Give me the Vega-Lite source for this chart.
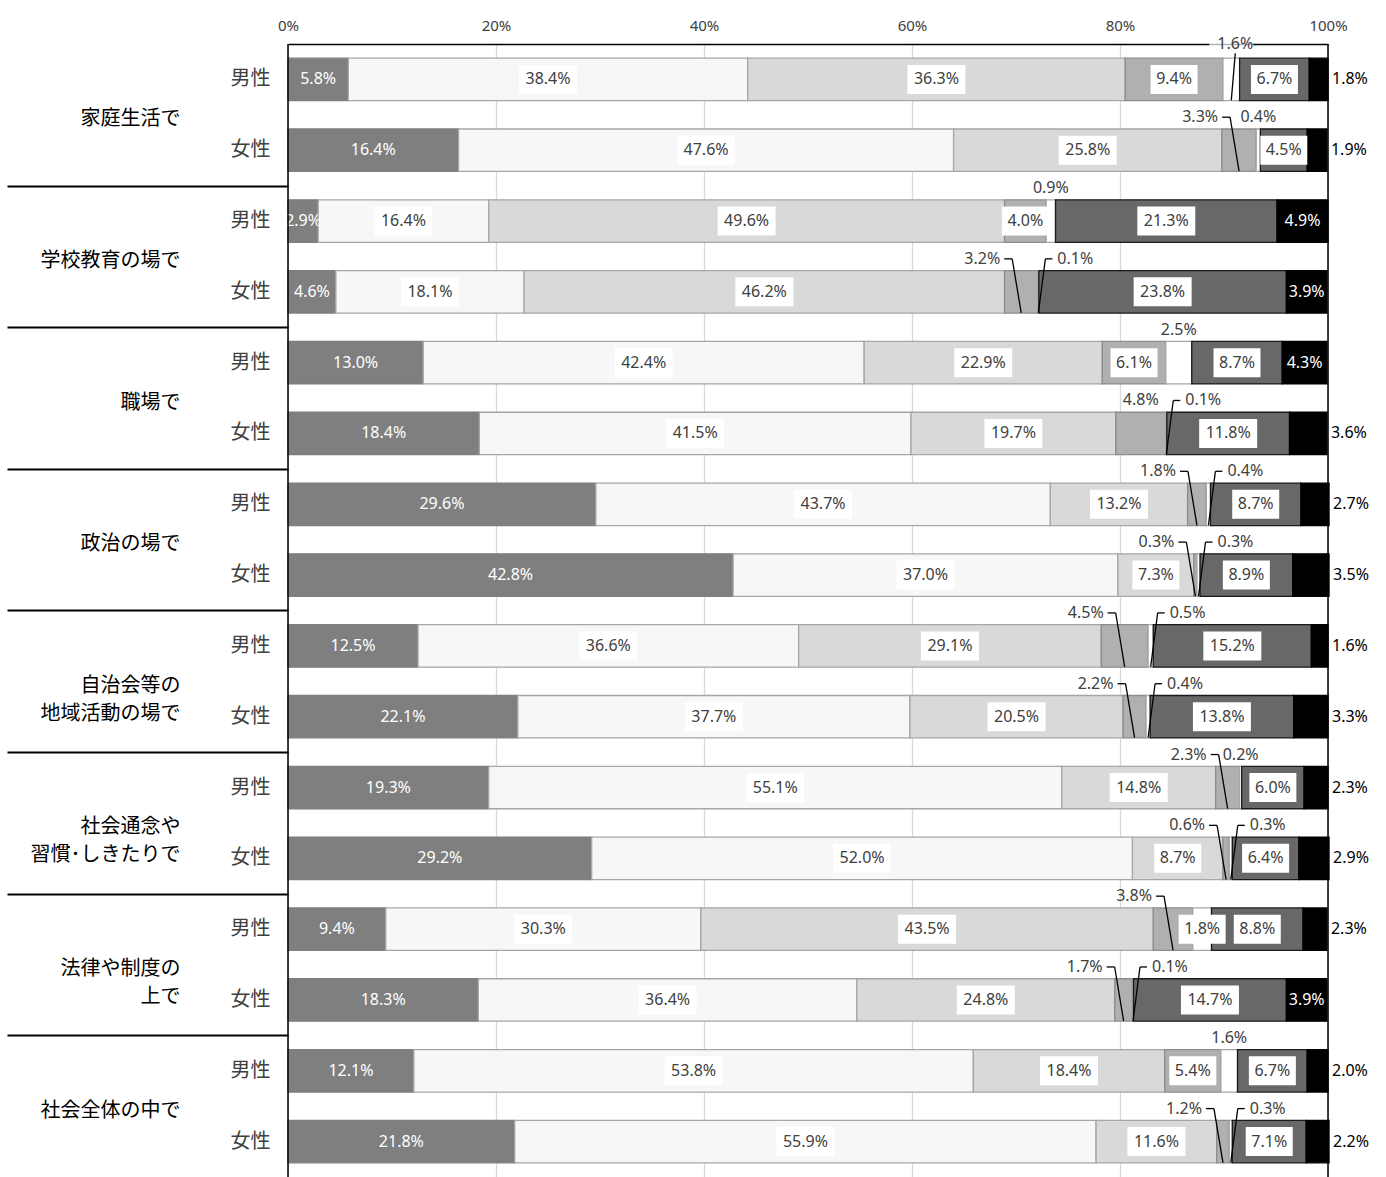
{
  "$schema": "https://vega.github.io/schema/vega-lite/v6.json",
  "width": 1040,
  "height": 1133,
  "autosize": "none",
  "padding": {"left": 288, "top": 44, "right": 58, "bottom": 0},
  "background": "white",
  "config": {"view": {"stroke": null}, "font": "Noto Sans CJK JP"},
  "layer": [
    {
      "data": {"values": [
        {"id": 1, "group": "家庭生活で", "s1": 5.8, "s2": 38.4, "s3": 36.3, "s4": 9.4, "s5": 1.6, "s6": 6.7, "s7": 1.8},
        {"id": 2, "group": "家庭生活で", "s1": 16.4, "s2": 47.6, "s3": 25.8, "s4": 3.3, "s5": 0.4, "s6": 4.5, "s7": 1.9},
        {"id": 3, "group": "学校教育の場で", "s1": 2.9, "s2": 16.4, "s3": 49.6, "s4": 4.0, "s5": 0.9, "s6": 21.3, "s7": 4.9},
        {"id": 4, "group": "学校教育の場で", "s1": 4.6, "s2": 18.1, "s3": 46.2, "s4": 3.2, "s5": 0.1, "s6": 23.8, "s7": 3.9},
        {"id": 5, "group": "職場で", "s1": 13.0, "s2": 42.4, "s3": 22.9, "s4": 6.1, "s5": 2.5, "s6": 8.7, "s7": 4.3},
        {"id": 6, "group": "職場で", "s1": 18.4, "s2": 41.5, "s3": 19.7, "s4": 4.8, "s5": 0.1, "s6": 11.8, "s7": 3.6},
        {"id": 7, "group": "政治の場で", "s1": 29.6, "s2": 43.7, "s3": 13.2, "s4": 1.8, "s5": 0.4, "s6": 8.7, "s7": 2.7},
        {"id": 8, "group": "政治の場で", "s1": 42.8, "s2": 37.0, "s3": 7.3, "s4": 0.3, "s5": 0.3, "s6": 8.9, "s7": 3.5},
        {"id": 9, "group": "自治会等の|地域活動の場で", "s1": 12.5, "s2": 36.6, "s3": 29.1, "s4": 4.5, "s5": 0.5, "s6": 15.2, "s7": 1.6},
        {"id": 10, "group": "自治会等の|地域活動の場で", "s1": 22.1, "s2": 37.7, "s3": 20.5, "s4": 2.2, "s5": 0.4, "s6": 13.8, "s7": 3.3},
        {"id": 11, "group": "社会通念や|習慣･しきたりで", "s1": 19.3, "s2": 55.1, "s3": 14.8, "s4": 2.3, "s5": 0.2, "s6": 6.0, "s7": 2.3},
        {"id": 12, "group": "社会通念や|習慣･しきたりで", "s1": 29.2, "s2": 52.0, "s3": 8.7, "s4": 0.6, "s5": 0.3, "s6": 6.4, "s7": 2.9},
        {"id": 13, "group": "法律や制度の|上で", "s1": 9.4, "s2": 30.3, "s3": 43.5, "s4": 3.8, "s5": 1.8, "s6": 8.8, "s7": 2.3},
        {"id": 14, "group": "法律や制度の|上で", "s1": 18.3, "s2": 36.4, "s3": 24.8, "s4": 1.7, "s5": 0.1, "s6": 14.7, "s7": 3.9},
        {"id": 15, "group": "社会全体の中で", "s1": 12.1, "s2": 53.8, "s3": 18.4, "s4": 5.4, "s5": 1.6, "s6": 6.7, "s7": 2.0},
        {"id": 16, "group": "社会全体の中で", "s1": 21.8, "s2": 55.9, "s3": 11.6, "s4": 1.2, "s5": 0.3, "s6": 7.1, "s7": 2.2}
      ]},
      "transform": [
        {"fold": ["s1", "s2", "s3", "s4", "s5", "s6", "s7"], "as": ["key", "value"]},
        {"stack": "value", "groupby": ["id"], "sort": [{"field": "key", "order": "ascending"}], "as": ["x0", "x1"]},
        {"calculate": "(datum.x0 + datum.x1) / 2", "as": "mid"},
        {"calculate": "format(datum.value, '.1f') + '%'", "as": "label"}
      ],
      "encoding": {
        "y": {"field": "id", "type": "ordinal", "title": null,
          "scale": {"paddingInner": 0.4, "paddingOuter": 0.2},
          "axis": {"orient": "left", "labelExpr": "datum.value % 2 == 1 ? '男性' : '女性'", "ticks": false, "domain": false,
            "labelPadding": 18, "labelFontSize": 20, "labelColor": "#404040", "labelFont": "Noto Sans CJK JP"}}
      },
      "layer": [
        {
          "mark": {"type": "bar", "strokeWidth": 1.3},
          "encoding": {
            "x": {"field": "x0", "type": "quantitative", "title": null,
              "scale": {"domain": [0, 100], "nice": false, "zero": true},
              "axis": {"orient": "top", "values": [0, 20, 40, 60, 80, 100], "labelExpr": "datum.value + '%'",
                "grid": true, "gridColor": "#d9d9d9", "gridWidth": 1.3, "domain": true, "domainColor": "#000000",
                "domainWidth": 1.5, "ticks": false, "labelPadding": 11, "labelFontSize": 15, "labelColor": "#404040",
                "labelFont": "Noto Sans", "labelFlush": false}},
            "x2": {"field": "x1"},
            "fill": {"field": "key", "type": "nominal", "legend": null,
              "scale": {"domain": ["s1", "s2", "s3", "s4", "s5", "s6", "s7"],
                "range": ["#7f7f7f", "#f7f7f7", "#d9d9d9", "#b0b0b0", "#ffffff", "#686868", "#000000"]}},
            "stroke": {"field": "key", "type": "nominal", "legend": null,
              "scale": {"domain": ["s1", "s2", "s3", "s4", "s5", "s6", "s7"],
                "range": ["#7f7f7f", "#a6a6a6", "#a6a6a6", "#8c8c8c", "#a6a6a6", "#1a1a1a", "#000000"]}}
          }
        },
        {
          "transform": [{"filter": "(datum.key=='s2' || datum.key=='s3' || datum.key=='s6' || (datum.key=='s4' && indexof([1,3,5,15], datum.id) >= 0) || (datum.key=='s5' && datum.id==13)) && datum.value >= 10"}],
          "mark": {"type": "tick", "fill": "#ffffff", "thickness": 58, "size": 29, "opacity": 1},
          "encoding": {"x": {"field": "mid", "type": "quantitative", "title": null}}
        },
        {
          "transform": [{"filter": "(datum.key=='s2' || datum.key=='s3' || datum.key=='s6' || (datum.key=='s4' && indexof([1,3,5,15], datum.id) >= 0) || (datum.key=='s5' && datum.id==13)) && datum.value < 10"}],
          "mark": {"type": "tick", "fill": "#ffffff", "thickness": 47, "size": 29, "opacity": 1},
          "encoding": {"x": {"field": "mid", "type": "quantitative", "title": null}}
        },
        {
          "transform": [{"filter": "datum.key=='s2' || datum.key=='s3' || datum.key=='s6' || (datum.key=='s4' && indexof([1,3,5,15], datum.id) >= 0) || (datum.key=='s5' && datum.id==13)"}],
          "mark": {"type": "text", "font": "Noto Sans", "fontSize": 16, "color": "#404040", "baseline": "middle"},
          "encoding": {"x": {"field": "mid", "type": "quantitative", "title": null}, "text": {"field": "label"}}
        },
        {
          "transform": [{"filter": "datum.key=='s1' || (datum.key=='s7' && datum.value >= 3.8)"}],
          "mark": {"type": "text", "font": "Noto Sans", "fontSize": 16, "color": "#ffffff", "baseline": "middle"},
          "encoding": {"x": {"field": "mid", "type": "quantitative", "title": null}, "text": {"field": "label"}}
        },
        {
          "transform": [{"filter": "datum.key=='s7' && datum.value < 3.8"}],
          "mark": {"type": "text", "font": "Noto Sans", "fontSize": 16, "color": "#000000", "baseline": "middle", "align": "left", "dx": 4},
          "encoding": {"x": {"field": "x1", "type": "quantitative", "title": null}, "text": {"field": "label"}}
        },
        {
          "transform": [{"filter": "datum.key=='s4' && indexof([1,3,5,6,15], datum.id) < 0"}],
          "mark": {"type": "text", "font": "Noto Sans", "fontSize": 16, "color": "#404040", "baseline": "middle", "align": "right", "dx": -21, "dy": -33},
          "encoding": {"x": {"field": "mid", "type": "quantitative", "title": null}, "text": {"field": "label"}}
        },
        {
          "transform": [{"filter": "datum.key=='s4' && indexof([1,3,5,6,15], datum.id) < 0"}],
          "mark": {"type": "rule", "color": "#000000", "strokeWidth": 1.3, "xOffset": -9, "x2Offset": 0, "yOffset": -33, "y2Offset": 21},
          "encoding": {
            "x": {"field": "mid", "type": "quantitative", "title": null}, "x2": {"field": "mid"},
            "y": {"field": "id", "type": "ordinal", "bandPosition": 0.5}, "y2": {"field": "id"}
          }
        },
        {
          "transform": [{"filter": "datum.key=='s4' && indexof([1,3,5,6,15], datum.id) < 0"}],
          "mark": {"type": "rule", "color": "#000000", "strokeWidth": 1.3, "xOffset": -17, "x2Offset": -9, "yOffset": -33},
          "encoding": {
            "x": {"field": "mid", "type": "quantitative", "title": null}, "x2": {"field": "mid"}
          }
        },
        {
          "transform": [{"filter": "datum.key=='s5' && indexof([1,2,3,5,11,13,15], datum.id) < 0"}],
          "mark": {"type": "text", "font": "Noto Sans", "fontSize": 16, "color": "#404040", "baseline": "middle", "align": "left", "dx": 19, "dy": -33},
          "encoding": {"x": {"field": "mid", "type": "quantitative", "title": null}, "text": {"field": "label"}}
        },
        {
          "transform": [{"filter": "datum.key=='s5' && indexof([1,2,3,5,11,13,15], datum.id) < 0"}],
          "mark": {"type": "rule", "color": "#000000", "strokeWidth": 1.3, "xOffset": 7, "x2Offset": 0, "yOffset": -33, "y2Offset": 21},
          "encoding": {
            "x": {"field": "mid", "type": "quantitative", "title": null}, "x2": {"field": "mid"},
            "y": {"field": "id", "type": "ordinal", "bandPosition": 0.5}, "y2": {"field": "id"}
          }
        },
        {
          "transform": [{"filter": "datum.key=='s5' && indexof([1,2,3,5,11,13,15], datum.id) < 0"}],
          "mark": {"type": "rule", "color": "#000000", "strokeWidth": 1.3, "xOffset": 7, "x2Offset": 14, "yOffset": -33},
          "encoding": {
            "x": {"field": "mid", "type": "quantitative", "title": null}, "x2": {"field": "mid"}
          }
        },
        {
          "transform": [{"filter": "(datum.key=='s5' && indexof([2,3,5,11,15], datum.id) >= 0) || (datum.key=='s4' && datum.id==6)"}],
          "mark": {"type": "text", "font": "Noto Sans", "fontSize": 16, "color": "#404040", "baseline": "middle", "align": "center", "dy": -33},
          "encoding": {"x": {"field": "mid", "type": "quantitative", "title": null}, "text": {"field": "label"}}
        },
        {
          "transform": [{"filter": "datum.key=='s5' && datum.id==1"}],
          "mark": {"type": "rule", "color": "#000000", "strokeWidth": 1.3, "xOffset": 4, "x2Offset": 0, "yOffset": -26, "y2Offset": 21},
          "encoding": {
            "x": {"field": "mid", "type": "quantitative", "title": null}, "x2": {"field": "mid"},
            "y": {"field": "id", "type": "ordinal", "bandPosition": 0.5}, "y2": {"field": "id"}
          }
        },
        {
          "transform": [{"filter": "datum.key=='s5' && datum.id==1"}],
          "mark": {"type": "tick", "fill": "#ffffff", "thickness": 44, "size": 18, "yOffset": -35.5},
          "encoding": {"x": {"field": "mid", "type": "quantitative", "title": null}}
        },
        {
          "transform": [{"filter": "datum.key=='s5' && datum.id==1"}],
          "mark": {"type": "text", "font": "Noto Sans", "fontSize": 16, "color": "#404040", "baseline": "middle", "align": "center", "dx": 4, "dy": -35.5},
          "encoding": {"x": {"field": "mid", "type": "quantitative", "title": null}, "text": {"field": "label"}}
        }
      ]
    },
    {
      "data": {"values": [
        {"group": "家庭生活で"}, {"group": "学校教育の場で"}, {"group": "職場で"}, {"group": "政治の場で"},
        {"group": "自治会等の|地域活動の場で"}, {"group": "社会通念や|習慣･しきたりで"}, {"group": "法律や制度の|上で"}, {"group": "社会全体の中で"}
      ]},
      "mark": {"type": "text"},
      "encoding": {
        "y": {"field": "group", "type": "nominal", "sort": null, "title": null,
          "scale": {"paddingInner": 0, "paddingOuter": 0},
          "axis": {"orient": "left", "domain": false, "ticks": true, "tickSize": 281, "tickWidth": 2, "tickColor": "#000000",
            "tickOpacity": {"condition": {"test": "datum.value === '社会全体の中で'", "value": 0}, "value": 1},
            "tickOffset": 70.8, "labelOffset": -66.8, "labelPadding": -173, "labelFontSize": 20,
            "labelFont": "Noto Sans CJK JP", "labelColor": "#000000", "labelLineHeight": 28, "labelBaseline": "middle",
            "labelAlign": "right", "labelExpr": "split(datum.label, '|')", "labelLimit": 400}},
        "text": {"value": ""}
      }
    },
    {
      "data": {"values": [{"v": 0}, {"v": 100}]},
      "mark": {"type": "rule", "color": "#000000", "strokeWidth": 1.5},
      "encoding": {"x": {"field": "v", "type": "quantitative", "title": null}}
    }
  ],
  "resolve": {"scale": {"y": "independent"}}
}
